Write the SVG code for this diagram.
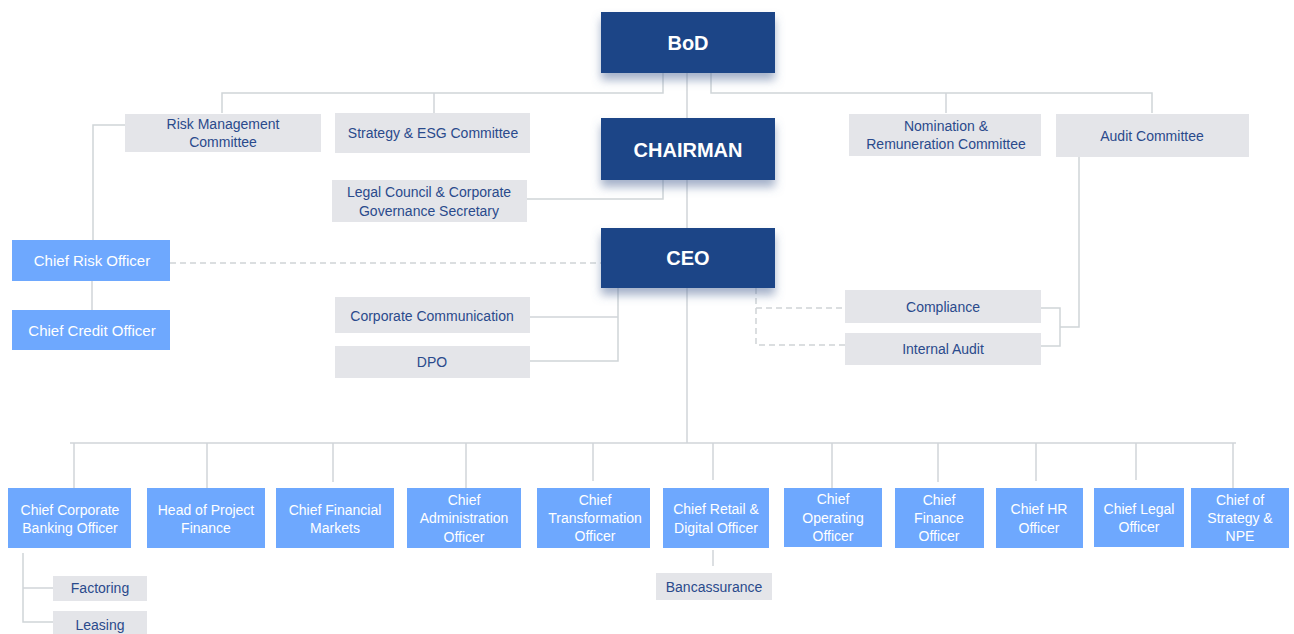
<svg xmlns="http://www.w3.org/2000/svg" width="1294" height="634" viewBox="0 0 1294 634">
<style>
.dark{fill:#1c4587}
.light{fill:#6ea8fe}
.gray{fill:#e4e5e9}
.tdark{font-family:"Liberation Sans",Arial,sans-serif;font-weight:bold;font-size:20px;fill:#ffffff;text-anchor:middle}
.tlight{font-family:"Liberation Sans",Arial,sans-serif;font-size:14px;fill:#ffffff;text-anchor:middle}
.tgray{font-family:"Liberation Sans",Arial,sans-serif;font-size:14px;fill:#2a4a8c;text-anchor:middle}
.ln{fill:none;stroke:#d0d5d8;stroke-width:1.5}
.dash{fill:none;stroke:#cfd3d6;stroke-width:1.5;stroke-dasharray:6 4}
</style>
<defs>
<filter id="sh" x="-20%" y="-20%" width="140%" height="160%">
<feDropShadow dx="0" dy="7" stdDeviation="5" flood-color="#5a6f9c" flood-opacity="0.55"/>
</filter>
</defs>
<rect width="1294" height="634" fill="#ffffff"/>
<g id="connectors">
<polyline class="ln" points="663,73 663,93 222,93 222,113"/>
<line class="ln" x1="434" y1="93" x2="434" y2="113"/>
<polyline class="ln" points="711,73 711,93 1152,93 1152,113"/>
<line class="ln" x1="946" y1="93" x2="946" y2="113"/>
<line class="ln" x1="687" y1="73" x2="687" y2="118"/>
<polyline class="ln" points="663,180 663,199 527,199"/>
<line class="ln" x1="687" y1="180" x2="687" y2="228"/>
<polyline class="ln" points="125,125 93,125 93,240"/>
<line class="ln" x1="92" y1="281" x2="92" y2="310"/>
<line class="dash" x1="170" y1="263" x2="601" y2="263"/>
<polyline class="ln" points="618,288 618,361 530,361"/>
<line class="ln" x1="618" y1="317" x2="530" y2="317"/>
<polyline class="dash" points="756,288 756,345 845,345"/>
<line class="dash" x1="756" y1="308" x2="845" y2="308"/>
<polyline class="ln" points="1079,157 1079,327 1060,327"/>
<polyline class="ln" points="1041,308 1060,308 1060,346 1041,346"/>
<line class="ln" x1="687" y1="288" x2="687" y2="443"/>
<line class="ln" x1="70" y1="443" x2="1236" y2="443"/>
<line class="ln" x1="74" y1="443" x2="74" y2="488"/>
<line class="ln" x1="207" y1="443" x2="207" y2="488"/>
<line class="ln" x1="333" y1="443" x2="333" y2="482"/>
<line class="ln" x1="466" y1="443" x2="466" y2="488"/>
<line class="ln" x1="593" y1="443" x2="593" y2="481"/>
<line class="ln" x1="713" y1="443" x2="713" y2="480"/>
<line class="ln" x1="832" y1="443" x2="832" y2="488"/>
<line class="ln" x1="938" y1="443" x2="938" y2="482"/>
<line class="ln" x1="1036" y1="443" x2="1036" y2="481"/>
<line class="ln" x1="1136" y1="443" x2="1136" y2="480"/>
<line class="ln" x1="1233" y1="443" x2="1233" y2="488"/>
<line class="ln" x1="713" y1="550" x2="713" y2="566"/>
<polyline class="ln" points="23,553 23,622 53,622"/>
<line class="ln" x1="23" y1="588" x2="53" y2="588"/>
</g>
<g id="bod"><rect class="dark" x="601" y="12" width="174" height="61" filter="url(#sh)"/><text class="tdark" x="688" y="50">BoD</text></g>
<g id="chairman"><rect class="dark" x="601" y="118" width="174" height="62" filter="url(#sh)"/><text class="tdark" x="688" y="157">CHAIRMAN</text></g>
<g id="ceo"><rect class="dark" x="601" y="228" width="174" height="60" filter="url(#sh)"/><text class="tdark" x="688" y="265">CEO</text></g>
<g id="risk-committee"><rect class="gray" x="125" y="114" width="196" height="38"/><text class="tgray" x="223" y="129">Risk Management</text><text class="tgray" x="223" y="147">Committee</text></g>
<g id="strategy-committee"><rect class="gray" x="335" y="113" width="195" height="40"/><text class="tgray" x="433" y="138">Strategy &amp; ESG Committee</text></g>
<g id="nomination-committee"><rect class="gray" x="849" y="114" width="192" height="42"/><text class="tgray" x="946" y="131">Nomination &amp;</text><text class="tgray" x="946" y="149">Remuneration Committee</text></g>
<g id="audit-committee"><rect class="gray" x="1056" y="114" width="193" height="43"/><text class="tgray" x="1152" y="141">Audit Committee</text></g>
<g id="legal-council"><rect class="gray" x="332" y="180" width="195" height="42"/><text class="tgray" x="429" y="197">Legal Council &amp; Corporate</text><text class="tgray" x="429" y="216">Governance Secretary</text></g>
<g id="cro"><rect class="light" x="12" y="240" width="158" height="41"/><text class="tlight" x="92" y="266" style="font-size:15px">Chief Risk Officer</text></g>
<g id="cco"><rect class="light" x="12" y="310" width="158" height="40"/><text class="tlight" x="92" y="336" style="font-size:15px">Chief Credit Officer</text></g>
<g id="corp-comm"><rect class="gray" x="335" y="297" width="195" height="36"/><text class="tgray" x="432" y="321">Corporate Communication</text></g>
<g id="dpo"><rect class="gray" x="335" y="346" width="195" height="32"/><text class="tgray" x="432" y="367">DPO</text></g>
<g id="compliance"><rect class="gray" x="845" y="290" width="196" height="33"/><text class="tgray" x="943" y="312">Compliance</text></g>
<g id="internal-audit"><rect class="gray" x="845" y="333" width="196" height="32"/><text class="tgray" x="943" y="354">Internal Audit</text></g>
<g id="ccbo"><rect class="light" x="8" y="488" width="123" height="60"/><text class="tlight" x="70" y="515">Chief Corporate</text><text class="tlight" x="70" y="533">Banking Officer</text></g>
<g id="project-finance"><rect class="light" x="147" y="488" width="118" height="60"/><text class="tlight" x="206" y="515">Head of Project</text><text class="tlight" x="206" y="533">Finance</text></g>
<g id="financial-markets"><rect class="light" x="276" y="488" width="118" height="60"/><text class="tlight" x="335" y="515">Chief Financial</text><text class="tlight" x="335" y="533">Markets</text></g>
<g id="cao"><rect class="light" x="407" y="488" width="114" height="60"/><text class="tlight" x="464" y="505">Chief</text><text class="tlight" x="464" y="523">Administration</text><text class="tlight" x="464" y="542">Officer</text></g>
<g id="cto"><rect class="light" x="537" y="488" width="113" height="60"/><text class="tlight" x="595" y="505">Chief</text><text class="tlight" x="595" y="523">Transformation</text><text class="tlight" x="595" y="541">Officer</text></g>
<g id="retail"><rect class="light" x="663" y="488" width="106" height="60"/><text class="tlight" x="716" y="514">Chief Retail &amp;</text><text class="tlight" x="716" y="533">Digital Officer</text></g>
<g id="coo"><rect class="light" x="784" y="488" width="98" height="59"/><text class="tlight" x="833" y="504">Chief</text><text class="tlight" x="833" y="523">Operating</text><text class="tlight" x="833" y="541">Officer</text></g>
<g id="cfo"><rect class="light" x="895" y="488" width="89" height="60"/><text class="tlight" x="939" y="505">Chief</text><text class="tlight" x="939" y="523">Finance</text><text class="tlight" x="939" y="541">Officer</text></g>
<g id="chro"><rect class="light" x="996" y="488" width="87" height="60"/><text class="tlight" x="1039" y="514">Chief HR</text><text class="tlight" x="1039" y="533">Officer</text></g>
<g id="clo"><rect class="light" x="1094" y="488" width="90" height="59"/><text class="tlight" x="1139" y="514">Chief Legal</text><text class="tlight" x="1139" y="532">Officer</text></g>
<g id="strategy-npe"><rect class="light" x="1191" y="488" width="98" height="60"/><text class="tlight" x="1240" y="505">Chief of</text><text class="tlight" x="1240" y="523">Strategy &amp;</text><text class="tlight" x="1240" y="541">NPE</text></g>
<g id="bancassurance"><rect class="gray" x="656" y="573" width="116" height="27"/><text class="tgray" x="714" y="592">Bancassurance</text></g>
<g id="factoring"><rect class="gray" x="53" y="576" width="94" height="25"/><text class="tgray" x="100" y="593">Factoring</text></g>
<g id="leasing"><rect class="gray" x="53" y="611" width="94" height="23"/><text class="tgray" x="100" y="630">Leasing</text></g>
</svg>
